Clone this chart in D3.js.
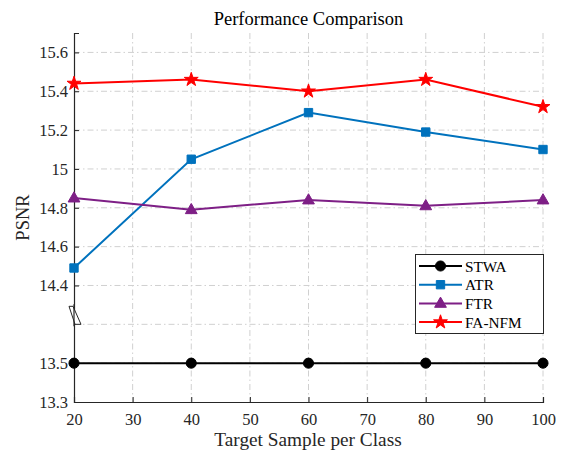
<!DOCTYPE html>
<html><head><meta charset="utf-8">
<script src="https://cdn.jsdelivr.net/npm/d3@7"></script>
<style>body{margin:0;background:#fff}svg{display:block}text{font-family:"Liberation Serif","Times New Roman",serif}</style>
</head><body>
<svg id="c" width="563" height="454"></svg>
<script>
const xValues = [20, 40, 60, 80, 100];
const seriesNames = ["STWA", "ATR", "FTR", "FA-NFM"];
const stwa = [13.5, 13.5, 13.5, 13.5, 13.5];
const atr = [14.49, 15.05, 15.29, 15.19, 15.10];
const ftr = [14.85, 14.79, 14.84, 14.81, 14.84];
const fanfm = [15.44, 15.46, 15.40, 15.46, 15.32];
const xTicks = [20, 30, 40, 50, 60, 70, 80, 90, 100];
const yTicks = [13.3, 13.5, 14.4, 14.6, 14.8, 15, 15.2, 15.4, 15.6];
const yBreakLow = 13.5, yBreakHigh = 14.4;

const svg = d3.select("#c");
const L = 74, R = 543, T = 33, B = 402;
const x = d3.scaleLinear().domain([20, 100]).range([L, R]);
// broken axis: lower segment 13.3-13.5, gap worth 0.4, upper 14.4-15.7
const s = (B - T) / (0.2 + 0.4 + 1.3);
const y = d3.scaleLinear()
  .domain([13.3, yBreakLow, yBreakHigh, 15.7])
  .range([B, B - 0.2 * s, B - 0.6 * s, T]);

const gridCol = "#d0d0d0", dash = "6,3,1.5,3";
const g = svg.append("g");
g.selectAll(".vg").data(xTicks.slice(1)).join("line")
  .attr("x1", d => x(d)).attr("x2", d => x(d)).attr("y1", T).attr("y2", B)
  .attr("stroke", gridCol).attr("stroke-dasharray", dash).attr("stroke-width", 1);
const breakMid = (y(yBreakLow) + y(yBreakHigh)) / 2;
const gridY = yTicks.slice(1).map(d => y(d)).concat([breakMid]);
g.selectAll(".hg").data(gridY).join("line")
  .attr("x1", L).attr("x2", R).attr("y1", d => d).attr("y2", d => d)
  .attr("stroke", gridCol).attr("stroke-dasharray", dash).attr("stroke-width", 1);

const tc = "#262626";
const xAxis = d3.axisBottom(x).tickValues(xTicks).tickSize(-5).tickPadding(11).tickFormat(d3.format("d"));
const ax = svg.append("g").attr("transform", `translate(0,${B})`).call(xAxis);
ax.attr("font-family", null);
ax.select(".domain").attr("stroke", tc).attr("stroke-width", 1.2);
ax.selectAll(".tick line").attr("stroke", tc);
ax.selectAll("text").style("font-size", "16.5px").style("font-family", "'Liberation Serif', serif").attr("fill", tc);

const yAxis = d3.axisLeft(y).tickValues(yTicks).tickSize(-5).tickPadding(6)
  .tickFormat(d => d === 15 ? "15" : d3.format(".1f")(d));
const ay = svg.append("g").attr("transform", `translate(${L},0)`).call(yAxis);
ay.attr("font-family", null);
ay.select(".domain").attr("stroke", tc).attr("stroke-width", 1.2);
ay.selectAll(".tick line").attr("stroke", tc);
ay.selectAll("text").style("font-size", "16.5px").style("font-family", "'Liberation Serif', serif").attr("fill", tc);

// break mark (parallelogram outline crossing the y axis)
svg.append("polygon")
  .attr("points", `${L-5},${breakMid-18} ${L-1},${breakMid-18} ${L+7},${breakMid} ${L+1},${breakMid}`)
  .attr("fill", "#fff").attr("stroke", tc).attr("stroke-width", 1);
svg.append("line").attr("x1", L).attr("x2", L).attr("y1", breakMid - 20).attr("y2", breakMid + 2)
  .attr("stroke", tc).attr("stroke-width", 1.2);

const series = [
  {name: seriesNames[0], vals: stwa, color: "#000000", marker: "circle"},
  {name: seriesNames[1], vals: atr, color: "#0072BD", marker: "square"},
  {name: seriesNames[2], vals: ftr, color: "#7E1F86", marker: "triangle"},
  {name: seriesNames[3], vals: fanfm, color: "#FF0000", marker: "star"}
];
const sym = {
  circle: d3.symbol().type(d3.symbolCircle).size(80),
  square: d3.symbol().type(d3.symbolSquare).size(70),
  triangle: d3.symbol().type(d3.symbolTriangle).size(60),
  star: d3.symbol().type(d3.symbolStar).size(60)
};
const line = d3.line().x((d, i) => x(xValues[i])).y(d => y(d));
series.forEach(sr => {
  const sg = svg.append("g");
  sg.append("path").attr("d", line(sr.vals)).attr("fill", "none").attr("stroke", sr.color).attr("stroke-width", 2);
  sg.selectAll("path.m").data(sr.vals).join("path").attr("class", "m")
    .attr("d", sym[sr.marker]())
    .attr("transform", (d, i) => `translate(${x(xValues[i])},${y(d) + (sr.marker === "triangle" ? 0.5 : 0)})`)
    .attr("fill", sr.color).attr("stroke", sr.color).attr("stroke-width", 1);
});

const lg = svg.append("g");
lg.append("rect").attr("x", 415.5).attr("y", 254.5).attr("width", 128).attr("height", 79)
  .attr("fill", "#fff").attr("stroke", tc).attr("stroke-width", 1);
series.forEach((sr, i) => {
  const yy = 266 + i * 18.7;
  lg.append("line").attr("x1", 419).attr("x2", 462).attr("y1", yy).attr("y2", yy).attr("stroke", sr.color).attr("stroke-width", 2);
  lg.append("path").attr("d", sym[sr.marker]()).attr("transform", `translate(440.5,${yy + (sr.marker === "triangle" ? 0.5 : 0)})`)
    .attr("fill", sr.color).attr("stroke", sr.color).attr("stroke-width", 1);
  lg.append("text").attr("x", 465).attr("y", yy + 5.5).style("font-size", "15.3px").attr("fill", "#000").text(sr.name);
});

svg.append("text").attr("x", (L + R) / 2).attr("y", 25).attr("text-anchor", "middle").style("font-size", "18.5px").attr("fill", "#000").text("Performance Comparison");
svg.append("text").attr("x", (L + R) / 2 - 0.5).attr("y", 446).attr("text-anchor", "middle").style("font-size", "19.3px").attr("fill", tc).text("Target Sample per Class");
svg.append("text").attr("transform", `translate(29,${(T + B) / 2}) rotate(-90)`).attr("text-anchor", "middle").style("font-size", "18.5px").attr("fill", tc).text("PSNR");
</script>
</body></html>
